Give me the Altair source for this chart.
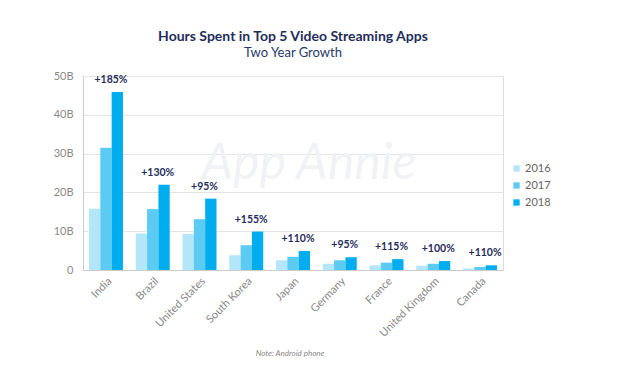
import altair as alt
import pandas as pd

countries = ["India", "Brazil", "United States", "South Korea", "Japan",
             "Germany", "France", "United Kingdom", "Canada"]
years = ["2016", "2017", "2018"]
hours_2016 = [15.8, 9.4, 9.3, 3.8, 2.5, 1.6, 1.2, 1.1, 0.4]
hours_2017 = [31.5, 15.7, 13.1, 6.4, 3.4, 2.5, 1.9, 1.6, 0.8]
hours_2018 = [45.9, 22.0, 18.4, 9.9, 4.9, 3.3, 2.8, 2.3, 1.2]
growth = ["+185%", "+130%", "+95%", "+155%", "+110%", "+95%", "+115%", "+100%", "+110%"]
colors = ["#b3e6f8", "#5ccbf3", "#00adef"]

rows = []
for i, c in enumerate(countries):
    for y, vals in zip(years, [hours_2016, hours_2017, hours_2018]):
        rows.append({"country": c, "year": y, "hours": vals[i]})
bars_df = pd.DataFrame(rows)
labels_df = pd.DataFrame({"country": countries, "label": growth,
                          "hours": [max(a, b, c) for a, b, c in zip(hours_2016, hours_2017, hours_2018)]})

FONT = "Lato"
navy = "#1f2d5c"

xscale = alt.Scale(domain=countries, paddingInner=0.273, paddingOuter=0.128)
yscale = alt.Scale(domain=[0, 50])

x_axis = alt.Axis(title=None, labelAngle=-45, ticks=False, domainColor="#cccccc",
                  labelColor="#888888", labelFontSize=11, labelFont=FONT,
                  labelPadding=5, grid=False, labelOverlap=False)
y_axis = alt.Axis(title=None, values=[0, 10, 20, 30, 40, 50], ticks=False,
                  labelExpr="datum.value == 0 ? '0' : datum.value + 'B'",
                  labelColor="#8a8a8a", labelFontSize=11, labelFont=FONT,
                  labelPadding=10, domainColor="#cccccc", gridColor="#e4e4e4",
                  labelOverlap=False)

x_enc = alt.X("country:N", scale=xscale, sort=countries, axis=x_axis)
y_enc = alt.Y("hours:Q", scale=yscale, axis=y_axis)

watermark = alt.Chart(pd.DataFrame({"t": ["App Annie"]})).mark_text(
    font=FONT, fontSize=50, fontStyle="italic", color="#f1f2f5",
    align="center", baseline="middle"
).encode(x=alt.value(226), y=alt.value(88), text="t:N")

bars = alt.Chart(bars_df).mark_bar().encode(
    x=x_enc,
    y=y_enc,
    xOffset=alt.XOffset("year:N", sort=years, scale=alt.Scale(paddingInner=0, paddingOuter=0)),
    color=alt.Color("year:N", sort=years, scale=alt.Scale(domain=years, range=colors),
                    legend=alt.Legend(title=None, orient="none", legendX=428, legendY=87,
                                      symbolType="square", symbolSize=40, symbolStrokeWidth=0,
                                      labelColor="#666666", labelFontSize=11, labelFont=FONT,
                                      rowPadding=5, labelOffset=3)),
)

labels = alt.Chart(labels_df).mark_text(
    font=FONT, fontSize=10.5, fontWeight="bold", color=navy, dx=5, dy=-12, baseline="middle"
).encode(
    x=x_enc,
    y=y_enc,
    text="label:N",
)

note = alt.Chart(pd.DataFrame({"t": ["Note: Android phone"]})).mark_text(
    font=FONT, fontSize=8, fontStyle="italic", color="#8a8a8a", align="center", baseline="middle"
).encode(x=alt.value(207), y=alt.value(278), text="t:N")

chart = alt.layer(watermark, bars, labels, note).properties(
    width=420, height=194,
    autosize=alt.AutoSizeParams(type="none"),
    padding={"left": 75, "top": 68, "right": 109, "bottom": 98},
    title=alt.TitleParams(text="Hours Spent in Top 5 Video Streaming Apps",
                          subtitle="Two Year Growth", anchor="middle",
                          font=FONT, fontSize=14, fontWeight="bold", color=navy,
                          subtitleFont=FONT, subtitleFontSize=13, subtitleColor="#2a3a6a",
                          subtitlePadding=3, offset=10),
).configure_view(stroke=None).configure(background="white")

chart.save("out.html", embed_options={"renderer": "svg", "actions": False})
